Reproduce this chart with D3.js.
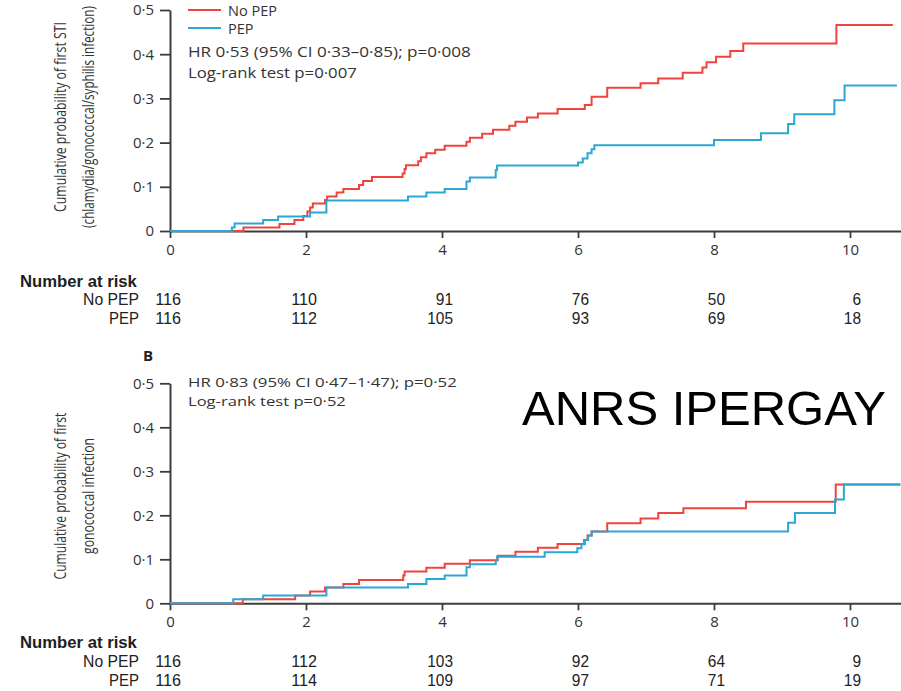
<!DOCTYPE html>
<html>
<head>
<meta charset="utf-8">
<script src="https://cdn.jsdelivr.net/npm/d3@7"></script>
<style>
  body { margin: 0; background: #fff; }
  svg { display: block; font-family: "Open Sans", "Liberation Sans", sans-serif; }
</style>
</head>
<body>
<svg id="chart" width="901" height="691"></svg>
<script>
// ---- data ----
const monthTicks = [0, 2, 4, 6, 8, 10];
const probTicks = [0, 0.1, 0.2, 0.3, 0.4, 0.5];
const groupNames = ["No PEP", "PEP"];

// Panel A: first STI (chlamydia/gonococcal/syphilis)
const stiNoPepTime = [1.08, 1.61, 1.83, 1.96, 2.02, 2.06, 2.10, 2.28, 2.31, 2.45, 2.55, 2.78, 2.84, 2.97, 3.42, 3.45, 3.47, 3.65, 3.69, 3.77, 3.90, 4.04, 4.36, 4.41, 4.59, 4.75, 4.99, 5.08, 5.25, 5.41, 5.70, 6.10, 6.20, 6.43, 6.92, 7.18, 7.54, 7.83, 7.89, 8.03, 8.24, 8.43, 9.80];
const stiNoPepProb = [0.008, 0.016, 0.025, 0.034, 0.044, 0.053, 0.062, 0.070, 0.078, 0.087, 0.095, 0.104, 0.113, 0.122, 0.130, 0.140, 0.149, 0.158, 0.167, 0.176, 0.184, 0.193, 0.202, 0.211, 0.220, 0.229, 0.238, 0.247, 0.257, 0.266, 0.276, 0.285, 0.304, 0.324, 0.334, 0.345, 0.358, 0.370, 0.382, 0.394, 0.407, 0.424, 0.466];
const stiNoPepEnd = 10.63;
const stiPepTime = [0.91, 0.95, 1.37, 1.59, 2.06, 2.30, 3.50, 3.77, 4.04, 4.36, 4.41, 4.79, 4.81, 6.00, 6.07, 6.14, 6.20, 6.24, 8.00, 8.69, 9.09, 9.18, 9.77, 9.92];
const stiPepProb = [0.008, 0.017, 0.025, 0.033, 0.042, 0.069, 0.078, 0.087, 0.095, 0.112, 0.121, 0.138, 0.148, 0.155, 0.164, 0.176, 0.185, 0.194, 0.206, 0.221, 0.242, 0.264, 0.296, 0.329];
const stiPepEnd = 10.69;
const stiRiskNoPep = [116, 110, 91, 76, 50, 6];
const stiRiskPep = [116, 112, 105, 93, 69, 18];

// Panel B: first gonococcal infection
const gonoNoPepTime = [1.07, 1.84, 2.06, 2.28, 2.55, 2.78, 3.43, 3.45, 3.77, 4.04, 4.41, 4.82, 5.08, 5.41, 5.70, 6.09, 6.14, 6.20, 6.43, 6.92, 7.18, 7.55, 8.47, 9.79];
const gonoNoPepProb = [0.009, 0.018, 0.027, 0.036, 0.044, 0.053, 0.063, 0.072, 0.081, 0.090, 0.098, 0.108, 0.117, 0.126, 0.135, 0.144, 0.154, 0.163, 0.182, 0.193, 0.205, 0.216, 0.231, 0.270];
const gonoNoPepEnd = 10.74;
const gonoPepTime = [0.93, 1.37, 2.30, 3.50, 3.77, 4.04, 4.36, 4.41, 4.79, 4.81, 5.51, 5.99, 6.05, 6.10, 6.15, 6.20, 9.09, 9.19, 9.78, 9.91];
const gonoPepProb = [0.009, 0.018, 0.036, 0.044, 0.055, 0.063, 0.082, 0.089, 0.098, 0.106, 0.116, 0.125, 0.134, 0.144, 0.154, 0.163, 0.183, 0.205, 0.236, 0.270];
const gonoPepEnd = 10.74;
const gonoRiskNoPep = [116, 112, 103, 92, 64, 9];
const gonoRiskPep = [116, 114, 109, 97, 71, 19];

// ---- drawing ----
const RED = "#f0433d";
const BLUE = "#2aa7d3";
const AXIS = "#3c3c3c";
const TEXT = "#333";

const svg = d3.select("#chart");
const x = d3.scaleLinear().domain([0, 10.75]).range([170, 901]);
const fmtProb = v => v === 0 ? "0" : d3.format(".1f")(v).replace(".", "\u00b7");

function stepPoints(times, probs, end) {
  const pts = [[0, 0]];
  times.forEach((t, i) => pts.push([t, probs[i]]));
  pts.push([end, probs[probs.length - 1]]);
  return pts;
}

// Condensed text: squeeze a label along its writing direction to a given length.
// anchor: "start" | "middle" | "end"; rot: rotation in degrees.
function condensedText(parent, str, px, py, len, opts) {
  const o = Object.assign({ anchor: "start", rot: 0, size: 15, weight: "normal", fill: "#222" }, opts);
  const g = parent.append("g");
  const t = g.append("text")
    .attr("dominant-baseline", "central")
    .attr("text-anchor", o.anchor)
    .attr("font-size", o.size)
    .attr("font-weight", o.weight)
    .attr("fill", o.fill)
    .text(str);
  const natural = t.node().getComputedTextLength();
  const k = len / natural;
  g.attr("transform", `translate(${px},${py}) rotate(${o.rot}) scale(${k},1)`);
  return g;
}

function drawPanel(cfg) {
  const y = d3.scaleLinear().domain([0, 0.5]).range([cfg.y0, cfg.y1]);
  const g = svg.append("g");

  // axes
  const xAxis = d3.axisBottom(x).tickValues(monthTicks).tickSizeInner(7).tickSizeOuter(0).tickPadding(6);
  const gx = g.append("g").attr("transform", `translate(0,${cfg.y0})`).call(xAxis);
  const yAxis = d3.axisLeft(y).tickValues(probTicks).tickFormat(fmtProb).tickSizeInner(10).tickSizeOuter(0).tickPadding(6);
  const gy = g.append("g").attr("transform", `translate(${x(0)},0)`).call(yAxis);
  [gx, gy].forEach(a => {
    a.select(".domain").attr("stroke", AXIS).attr("stroke-width", 2);
    a.selectAll(".tick line").attr("stroke", AXIS).attr("stroke-width", 1.8);
    a.selectAll(".tick text").attr("fill", TEXT).attr("font-size", 15)
      .attr("font-family", '"Open Sans", sans-serif');
  });

  // curves
  const line = d3.line().x(d => x(d[0])).y(d => y(d[1])).curve(d3.curveStepAfter);
  cfg.series.forEach(s => {
    g.append("path")
      .datum(stepPoints(s.time, s.prob, s.end))
      .attr("fill", "none")
      .attr("stroke", s.color)
      .attr("stroke-width", 2)
      .attr("d", line);
  });

  // rotated y label
  cfg.yLabel.forEach((txt, i) => {
    condensedText(g, txt, cfg.yLabelX[i], cfg.yLabelY, cfg.yLabelLen[i],
      { anchor: "middle", rot: -90, size: 16, fill: TEXT });
  });

  // stats
  cfg.stats.forEach((txt, i) => {
    condensedText(g, txt, 188, cfg.statsY[i], cfg.statsLen[i], { size: cfg.statsSize, fill: TEXT });
  });

  // number at risk table
  const t = g.append("g").attr("font-family", '"Liberation Sans", sans-serif');
  condensedText(t, "Number at risk", 20, cfg.riskY[0], 117, { size: 16, weight: "bold", fill: "#1e1e1e" });
  cfg.risk.forEach((row, r) => {
    const yy = cfg.riskY[r + 1];
    condensedText(t, groupNames[r], 139, yy, r === 0 ? 56 : 30, { anchor: "end", size: 17, fill: "#222" });
    row.forEach((d, i) => {
      condensedText(t, String(d), x(monthTicks[i]) + 11, yy, String(d).length * 8.6,
        { anchor: "end", size: 17, fill: "#222" });
    });
  });
}

drawPanel({
  y0: 231, y1: 10,
  series: [
    { time: stiNoPepTime, prob: stiNoPepProb, end: stiNoPepEnd, color: RED },
    { time: stiPepTime, prob: stiPepProb, end: stiPepEnd, color: BLUE }
  ],
  yLabel: ["Cumulative probability of first STI", "(chlamydia/gonococcal/syphilis infection)"],
  yLabelX: [60, 88], yLabelY: 117, yLabelLen: [190, 222],
  stats: ["HR 0\u00b753 (95% CI 0\u00b733\u20130\u00b785); p=0\u00b7008", "Log-rank test p=0\u00b7007"],
  statsY: [52, 72], statsLen: [283, 169], statsSize: 14.5,
  risk: [stiRiskNoPep, stiRiskPep],
  riskY: [281, 299, 318]
});

drawPanel({
  y0: 603.3, y1: 383.3,
  series: [
    { time: gonoNoPepTime, prob: gonoNoPepProb, end: gonoNoPepEnd, color: RED },
    { time: gonoPepTime, prob: gonoPepProb, end: gonoPepEnd, color: BLUE }
  ],
  yLabel: ["Cumulative probability of first", "gonococcal infection"],
  yLabelX: [60, 88], yLabelY: 496, yLabelLen: [167, 116],
  stats: ["HR 0\u00b783 (95% CI 0\u00b747\u20131\u00b747); p=0\u00b752", "Log-rank test p=0\u00b752"],
  statsY: [382, 401], statsLen: [269, 158], statsSize: 13.5,
  risk: [gonoRiskNoPep, gonoRiskPep],
  riskY: [642, 661, 680]
});

// legend (panel A)
const legend = svg.append("g");
[[RED, 10], [BLUE, 28]].forEach(([c, yy], i) => {
  legend.append("line").attr("x1", 188).attr("x2", 221).attr("y1", yy).attr("y2", yy)
    .attr("stroke", c).attr("stroke-width", 2);
  legend.append("text").attr("x", 228).attr("y", yy)
    .attr("dominant-baseline", "central").attr("font-size", 14.5).attr("fill", TEXT)
    .text(groupNames[i]);
});

// panel letter
svg.append("text").attr("x", 143).attr("y", 355)
  .attr("dominant-baseline", "central")
  .attr("font-weight", "bold").attr("font-size", 15).attr("fill", "#222")
  .text("B");

// study name
svg.append("text").attr("x", 522).attr("y", 425)
  .attr("font-family", '"Liberation Sans", Arial, sans-serif')
  .attr("font-size", 49).attr("fill", "#000")
  .text("ANRS IPERGAY");
</script>
</body>
</html>
